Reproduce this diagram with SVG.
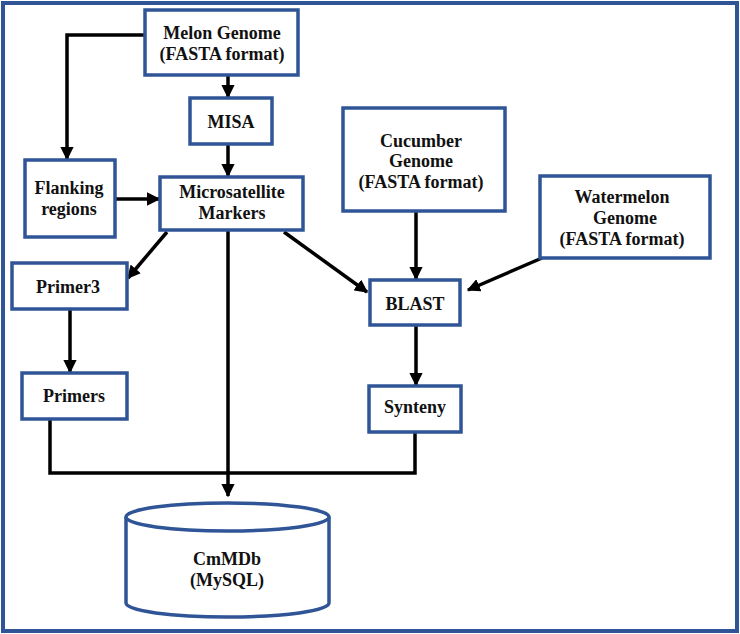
<svg xmlns="http://www.w3.org/2000/svg" width="740" height="634" viewBox="0 0 740 634">
<defs>
<style>
.box{fill:#fff;stroke:#2F5597;stroke-width:3.5}
.t{font-family:'Liberation Serif','Times New Roman',serif;font-weight:bold;font-size:18px;fill:#111;text-anchor:middle}
.c{fill:none;stroke:#000;stroke-width:3.5}
</style>
<marker id="ah" viewBox="0 0 10 10" refX="9" refY="5" markerWidth="3.8" markerHeight="3.8" orient="auto" markerUnits="strokeWidth">
<path d="M0,0 L10,5 L0,10 z" fill="#000"/>
</marker>
</defs>
<rect x="0" y="0" width="740" height="634" fill="#fff"/>
<rect x="3" y="3" width="734" height="628" fill="none" stroke="#2F5597" stroke-width="4"/>

<g id="connectors">
<path class="c" d="M228,75 V97" marker-end="url(#ah)"/>
<path class="c" d="M228,144 V176" marker-end="url(#ah)"/>
<path class="c" d="M145,35 H67 V159" marker-end="url(#ah)"/>
<path class="c" d="M115,199 H159" marker-end="url(#ah)"/>
<path class="c" d="M167,232 L128,278" marker-end="url(#ah)"/>
<path class="c" d="M284,232 L367,292" marker-end="url(#ah)"/>
<path class="c" d="M228,231 V496" marker-end="url(#ah)"/>
<path class="c" d="M70,309 V372" marker-end="url(#ah)"/>
<path class="c" d="M416,211 V279" marker-end="url(#ah)"/>
<path class="c" d="M542,258 L468,290" marker-end="url(#ah)"/>
<path class="c" d="M416,325 V385" marker-end="url(#ah)"/>
<path class="c" d="M50,419 V473 H415 V432"/>
</g>

<g id="melon"><rect class="box" x="145" y="10" width="153" height="65"/>
<text class="t" x="222" y="39">Melon Genome</text><text class="t" x="222" y="60">(FASTA format)</text></g>
<g id="misa"><rect class="box" x="190" y="98" width="82" height="46"/>
<text class="t" x="231" y="128">MISA</text></g>
<g id="flanking"><rect class="box" x="25" y="160" width="90" height="77"/>
<text class="t" x="69" y="194">Flanking</text><text class="t" x="69" y="215">regions</text></g>
<g id="markers"><rect class="box" x="160" y="177" width="143" height="53"/>
<text class="t" x="232" y="198">Microsatellite</text><text class="t" x="232" y="219">Markers</text></g>
<g id="cucumber"><rect class="box" x="343" y="108" width="162" height="103"/>
<text class="t" x="421" y="147">Cucumber</text><text class="t" x="421" y="167">Genome</text><text class="t" x="421" y="188">(FASTA format)</text></g>
<g id="watermelon"><rect class="box" x="540" y="176" width="170" height="82"/>
<text class="t" x="622" y="203">Watermelon</text><text class="t" x="625" y="224">Genome</text><text class="t" x="622" y="245">(FASTA format)</text></g>
<g id="blast"><rect class="box" x="370" y="280" width="90" height="45"/>
<text class="t" x="415" y="310">BLAST</text></g>
<g id="primer3"><rect class="box" x="12" y="263" width="115" height="46"/>
<text class="t" x="68" y="293">Primer3</text></g>
<g id="primers"><rect class="box" x="22" y="373" width="105" height="46"/>
<text class="t" x="74" y="402">Primers</text></g>
<g id="synteny"><rect class="box" x="369" y="386" width="92" height="46"/>
<text class="t" x="415" y="413">Synteny</text></g>
<g id="cmmdb">
<path class="box" d="M126,517 V603 A101.5,14 0 0 0 329,603 V517"/>
<ellipse class="box" cx="227.5" cy="517" rx="101.5" ry="14"/>
<text class="t" x="227" y="565">CmMDb</text><text class="t" x="227" y="586">(MySQL)</text></g>
</svg>
